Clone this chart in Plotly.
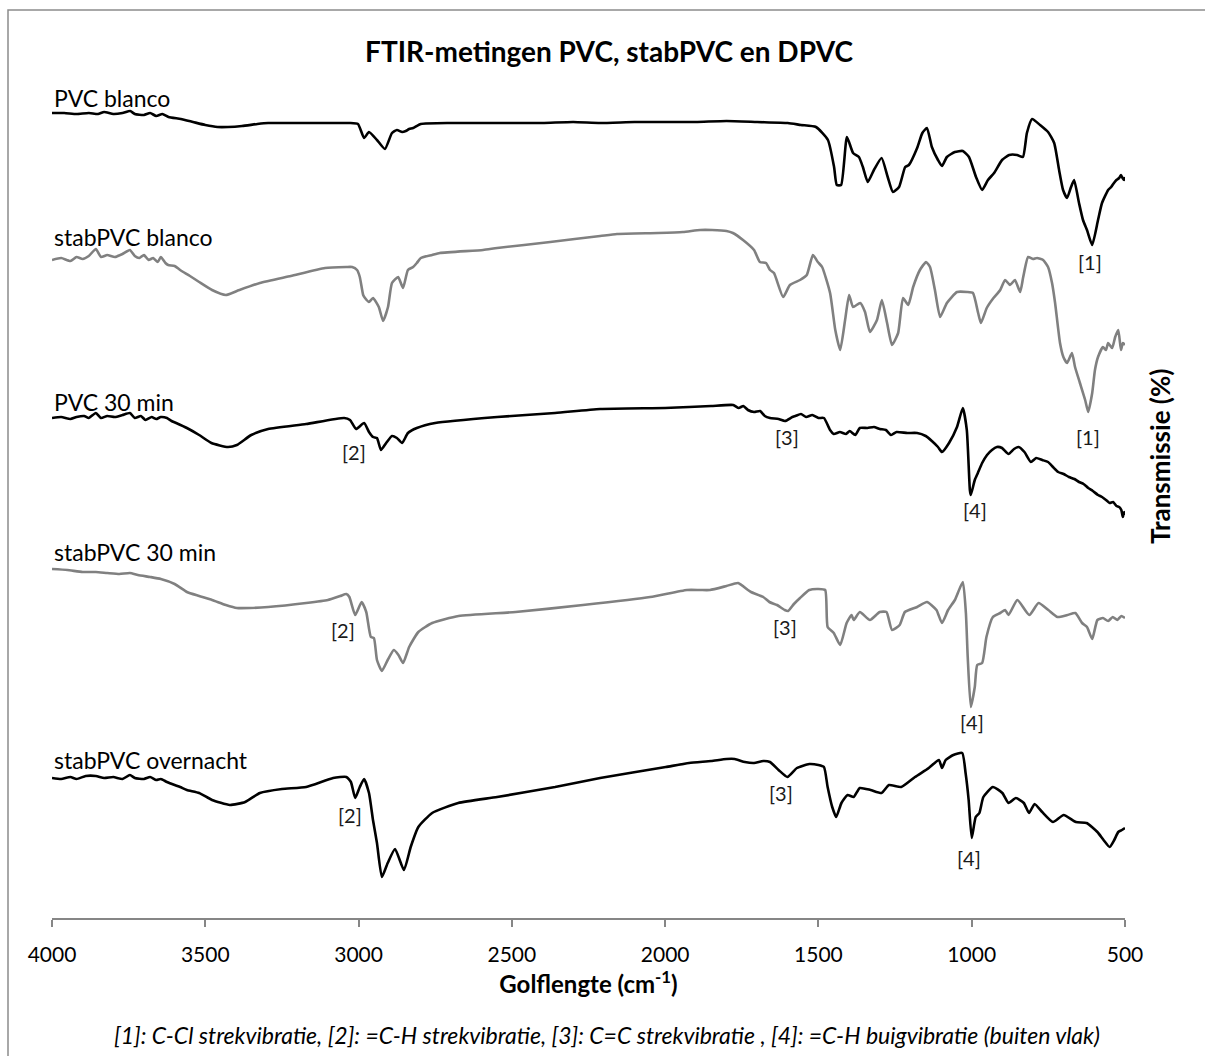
import plotly.graph_objects as go

# FTIR spectra (wavenumber in cm-1, transmission in offset arbitrary units)
pvc_blanco = [
    (4000, 887), (3960, 887), (3920, 886), (3880, 887), (3850, 886), (3830, 888), (3800, 886),
    (3770, 887), (3745, 889), (3730, 886), (3700, 885), (3680, 887), (3660, 884), (3640, 886),
    (3620, 883), (3580, 881), (3540, 878), (3500, 875), (3460, 873), (3426, 873), (3380, 874),
    (3330, 876), (3295, 877), (3200, 877), (3100, 877), (3030, 877), (3002, 876), (2982, 862),
    (2966, 868), (2940, 860), (2914, 851), (2891, 867), (2875, 870), (2858, 868), (2846, 869),
    (2835, 871), (2822, 872), (2797, 876), (2700, 877), (2600, 877), (2500, 877), (2400, 877),
    (2300, 878), (2212, 877), (2100, 878), (2000, 878), (1900, 878), (1800, 879), (1700, 878),
    (1600, 877), (1557, 875), (1508, 873), (1469, 860), (1449, 833), (1440, 815), (1426, 815),
    (1407, 863), (1387, 847), (1368, 843), (1355, 833), (1339, 818), (1319, 830), (1294, 842),
    (1274, 823), (1257, 808), (1237, 813), (1217, 833), (1205, 835), (1178, 852), (1161, 867),
    (1146, 872), (1130, 853), (1110, 840), (1097, 834), (1081, 843), (1055, 848), (1029, 849),
    (1009, 843), (986, 823), (966, 810), (947, 820), (927, 827), (901, 840), (878, 845),
    (852, 845), (833, 843), (820, 867), (803, 881), (777, 875), (751, 868), (731, 857),
    (715, 830), (702, 810), (689, 802), (676, 813), (666, 820), (650, 797), (637, 780),
    (624, 770), (607, 755), (588, 780), (575, 797), (555, 810), (545, 813), (536, 817),
    (528, 820), (519, 822), (513, 825), (508, 822), (503, 820), (500, 823),
]

stabpvc_blanco = [
    (4000, 740), (3970, 742), (3940, 739), (3920, 743), (3900, 741), (3880, 744), (3857, 751),
    (3840, 743), (3820, 745), (3795, 743), (3770, 746), (3746, 750), (3730, 744), (3715, 742),
    (3700, 745), (3685, 740), (3670, 742), (3655, 738), (3645, 743), (3630, 737), (3621, 735),
    (3600, 734), (3582, 730), (3550, 724), (3520, 718), (3478, 710), (3433, 705), (3397, 709),
    (3322, 717), (3221, 724), (3109, 732), (3040, 733), (3021, 733), (3005, 730), (2996, 723),
    (2985, 705), (2979, 702), (2966, 698), (2953, 702), (2934, 693), (2920, 679), (2904, 693),
    (2891, 717), (2871, 723), (2855, 712), (2839, 730), (2822, 733), (2810, 737), (2797, 742),
    (2760, 745), (2735, 747), (2594, 750), (2548, 752), (2375, 758), (2212, 764), (2157, 766),
    (2023, 767), (1942, 768), (1886, 770), (1847, 770), (1800, 769), (1779, 767), (1746, 760),
    (1710, 750), (1691, 738), (1671, 737), (1658, 730), (1645, 727), (1615, 703), (1593, 715),
    (1560, 720), (1538, 725), (1518, 745), (1502, 738), (1488, 733), (1462, 707), (1445, 670),
    (1429, 650), (1413, 680), (1400, 705), (1387, 693), (1364, 697), (1348, 688), (1332, 668),
    (1309, 680), (1293, 700), (1276, 677), (1260, 655), (1240, 667), (1224, 702), (1207, 695),
    (1191, 713), (1169, 730), (1149, 738), (1136, 733), (1120, 710), (1103, 683), (1081, 697),
    (1048, 708), (1015, 708), (996, 707), (979, 687), (970, 677), (951, 692), (929, 702),
    (907, 710), (891, 720), (875, 715), (859, 720), (842, 708), (832, 723), (816, 743),
    (800, 741), (787, 742), (767, 740), (751, 733), (738, 717), (728, 697), (712, 657),
    (701, 643), (689, 637), (673, 647), (663, 633), (647, 617), (630, 600), (620, 588),
    (607, 607), (598, 630), (588, 643), (572, 653), (562, 650), (555, 657), (542, 652),
    (532, 663), (522, 670), (513, 650), (507, 657), (500, 655),
]

pvc_30min = [
    (4000, 582), (3970, 583), (3940, 581), (3920, 583), (3895, 584), (3880, 582), (3857, 587),
    (3840, 582), (3820, 584), (3795, 583), (3770, 585), (3746, 587), (3730, 582), (3710, 584),
    (3695, 580), (3675, 583), (3660, 581), (3645, 583), (3625, 582), (3610, 579), (3595, 577),
    (3560, 572), (3520, 565), (3480, 557), (3426, 553), (3397, 555), (3350, 565), (3295, 571),
    (3171, 576), (3047, 582), (3028, 580), (3008, 571), (2982, 577), (2966, 568), (2953, 563),
    (2940, 562), (2927, 550), (2910, 557), (2891, 564), (2875, 562), (2858, 557), (2839, 567),
    (2810, 572), (2750, 577), (2548, 583), (2359, 587), (2212, 591), (2000, 592), (1922, 593),
    (1850, 594), (1778, 595), (1760, 592), (1745, 594), (1730, 590), (1710, 588), (1690, 589),
    (1675, 584), (1658, 582), (1630, 581), (1609, 579), (1585, 583), (1575, 584), (1557, 586),
    (1540, 583), (1520, 585), (1500, 582), (1482, 582), (1462, 570), (1450, 566), (1430, 568),
    (1410, 566), (1398, 569), (1380, 565), (1365, 572), (1340, 572), (1319, 573), (1300, 571),
    (1280, 570), (1263, 565), (1245, 568), (1210, 567), (1178, 567), (1150, 564), (1130, 559),
    (1110, 553), (1097, 548), (1074, 557), (1048, 573), (1029, 592), (1016, 570), (1006, 510),
    (1003, 505), (990, 520), (980, 527), (966, 537), (950, 545), (934, 550), (918, 553),
    (901, 552), (880, 546), (862, 551), (847, 553), (828, 548), (807, 538), (790, 542),
    (770, 540), (751, 538), (735, 533), (718, 528), (700, 526), (683, 523), (665, 521),
    (650, 518), (635, 516), (620, 512), (605, 509), (588, 505), (575, 503), (562, 500),
    (550, 497), (539, 498), (528, 494), (519, 493), (512, 490), (507, 483), (503, 488),
    (500, 485),
]

stabpvc_30min = [
    (4000, 431), (3950, 430), (3900, 428), (3857, 428), (3820, 427), (3780, 426), (3746, 427),
    (3720, 425), (3680, 423), (3645, 421), (3600, 416), (3560, 408), (3520, 404), (3478, 400),
    (3433, 395), (3397, 392), (3354, 392), (3295, 393), (3171, 397), (3100, 400), (3060, 404),
    (3040, 406), (3030, 403), (3011, 385), (2990, 398), (2975, 388), (2960, 363), (2950, 362),
    (2940, 340), (2924, 329), (2905, 340), (2885, 350), (2870, 345), (2855, 337), (2835, 353),
    (2805, 368), (2760, 377), (2674, 384), (2488, 388), (2268, 395), (2049, 403), (1929, 410),
    (1886, 410), (1854, 410), (1800, 414), (1762, 417), (1730, 410), (1720, 408), (1680, 403),
    (1660, 398), (1635, 395), (1610, 390), (1599, 389), (1580, 396), (1560, 402), (1530, 410),
    (1500, 411), (1478, 410), (1470, 373), (1450, 367), (1429, 355), (1408, 377), (1392, 385),
    (1385, 380), (1365, 388), (1332, 380), (1300, 388), (1278, 388), (1260, 370), (1235, 375),
    (1218, 388), (1178, 393), (1146, 398), (1115, 390), (1097, 377), (1077, 390), (1055, 400),
    (1029, 418), (1019, 387), (1013, 343), (1003, 293), (990, 313), (982, 335), (966, 337),
    (952, 363), (931, 383), (907, 387), (891, 390), (880, 385), (851, 400), (812, 385),
    (782, 397), (750, 390), (720, 383), (688, 385), (662, 387), (640, 377), (624, 373),
    (607, 361), (590, 380), (572, 382), (555, 379), (540, 383), (525, 380), (512, 384),
    (500, 382),
]

stabpvc_overnacht = [
    (4000, 222), (3970, 221), (3940, 223), (3920, 221), (3890, 224), (3857, 224), (3830, 222),
    (3800, 223), (3770, 221), (3746, 225), (3730, 222), (3700, 221), (3680, 223), (3660, 220),
    (3645, 221), (3625, 218), (3600, 215), (3582, 213), (3560, 210), (3520, 207), (3478, 200),
    (3420, 195), (3370, 198), (3322, 207), (3250, 211), (3171, 213), (3083, 222), (3040, 223),
    (3025, 218), (3011, 202), (2996, 213), (2982, 221), (2966, 207), (2953, 180), (2940, 157),
    (2924, 123), (2905, 137), (2881, 151), (2852, 130), (2830, 153), (2805, 173), (2760, 187),
    (2675, 197), (2548, 203), (2359, 213), (2212, 222), (1998, 233), (1922, 237), (1850, 239),
    (1800, 241), (1773, 241), (1740, 238), (1710, 237), (1680, 239), (1658, 238), (1630, 230),
    (1601, 223), (1570, 232), (1530, 236), (1500, 235), (1482, 233), (1470, 213), (1455, 193),
    (1442, 183), (1425, 197), (1405, 205), (1385, 203), (1365, 212), (1330, 210), (1294, 207),
    (1270, 215), (1230, 213), (1185, 223), (1140, 232), (1107, 240), (1097, 232), (1085, 240),
    (1060, 245), (1031, 247), (1020, 227), (1010, 200), (1000, 162), (987, 183), (975, 187),
    (962, 203), (931, 213), (900, 207), (880, 197), (856, 202), (830, 197), (813, 187),
    (795, 196), (770, 188), (735, 178), (700, 185), (660, 178), (625, 177), (590, 168),
    (570, 160), (550, 153), (535, 160), (522, 168), (510, 170), (500, 172),
]

series_names = ["PVC blanco", "stabPVC blanco", "PVC 30 min", "stabPVC 30 min", "stabPVC overnacht"]
series_data = [pvc_blanco, stabpvc_blanco, pvc_30min, stabpvc_30min, stabpvc_overnacht]
series_colors = ["#000000", "#808080", "#000000", "#808080", "#000000"]
# label anchor (wavenumber, transmission) for each series name
series_label_pos = [(4000, 902), (4000, 763), (4000, 598), (4000, 448), (4000, 240)]

# band assignment markers: (text, wavenumber, transmission)
band_labels = [
    ("[1]", 614, 738), ("[1]", 620, 563),
    ("[2]", 3015, 548), ("[3]", 1602, 563), ("[4]", 989, 490),
    ("[2]", 3051, 370), ("[3]", 1609, 373), ("[4]", 999, 278),
    ("[2]", 3028, 185), ("[3]", 1622, 207), ("[4]", 1009, 142),
]

x_ticks = [4000, 3500, 3000, 2500, 2000, 1500, 1000, 500]

FONT = "Lato"

fig = go.Figure()
for name, data, color in zip(series_names, series_data, series_colors):
    wn, tr = zip(*data)
    fig.add_trace(go.Scatter(x=list(wn), y=list(tr), mode="lines", name=name,
                             line=dict(color=color, width=2.6, shape="spline", smoothing=0.5),
                             showlegend=False))

annotations = []
for name, (wx, ty) in zip(series_names, series_label_pos):
    annotations.append(dict(x=wx, y=ty, xref="x", yref="y", text=name, showarrow=False,
                            xanchor="left", yanchor="middle",
                            font=dict(family=FONT, size=23, color="#000000")))
for text, wx, ty in band_labels:
    annotations.append(dict(x=wx, y=ty, xref="x", yref="y", text=text, showarrow=False,
                            xanchor="center", yanchor="middle",
                            font=dict(family=FONT, size=20, color="#1a1a1a")))

# y-axis title on the right
annotations.append(dict(x=1, y=(918 - 457) / 833, xref="paper", yref="paper", xshift=35,
                        text="<b>Transmissie (%)</b>",
                        textangle=-90, showarrow=False, xanchor="center", yanchor="middle",
                        font=dict(family=FONT, size=26, color="#000000")))
# footnote with band assignments
annotations.append(dict(x=(607 - 52) / 1073, y=0, xref="paper", yref="paper", yshift=-117,
                        text="<i>[1]: C-Cl strekvibratie, [2]: =C-H strekvibratie, [3]: C=C strekvibratie , "
                             "[4]: =C-H buigvibratie (buiten vlak)</i>",
                        showarrow=False, xanchor="center", yanchor="middle",
                        font=dict(family=FONT, size=23, color="#000000")))

fig.update_layout(
    width=1205, height=1056,
    margin=dict(l=52, r=80, t=85, b=138),
    paper_bgcolor="white", plot_bgcolor="white",
    title=dict(text="<b>FTIR-metingen PVC, stabPVC en DPVC</b>", x=609 / 1205, xref="container",
               y=1 - 52 / 1056, yref="container", xanchor="center", yanchor="middle",
               font=dict(family=FONT, size=28, color="#000000")),
    xaxis=dict(range=[4000, 500], tickvals=x_ticks, ticktext=[str(t) for t in x_ticks],
               showline=True, linecolor="#868686", linewidth=1.5, ticks="outside", ticklen=7,
               tickcolor="#868686", tickwidth=1.5, showgrid=False, zeroline=False,
               ticklabelstandoff=10,
               tickfont=dict(family=FONT, size=21, color="#000000"),
               title=dict(text="<b>Golflengte (cm<sup>-1</sup>)</b>", standoff=8,
                          font=dict(family=FONT, size=24, color="#000000"))),
    yaxis=dict(range=[82, 915], visible=False),
    annotations=annotations,
    shapes=[dict(type="rect", xref="paper", yref="paper",
                 x0=(8 - 52) / 1073, x1=(1215 - 52) / 1073,
                 y0=(918 - 1070) / 833, y1=(918 - 10) / 833,
                 line=dict(color="#8c8c8c", width=1.5), fillcolor="rgba(0,0,0,0)", layer="below")],
)

fig.write_html("out.html")
